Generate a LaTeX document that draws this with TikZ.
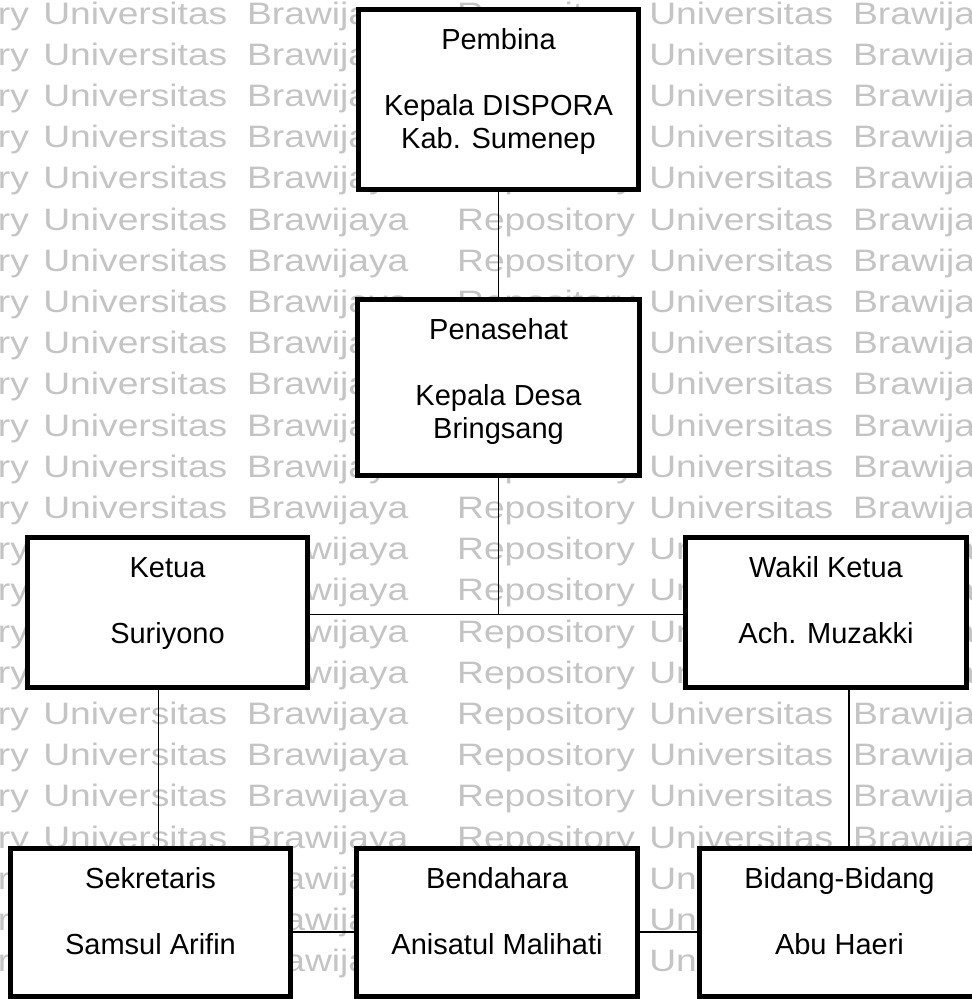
\documentclass[tikz,border=0pt]{standalone}
\usepackage{fontspec}
\setmainfont{Liberation Sans}
\usetikzlibrary{positioning,calc}
\definecolor{wmgray}{gray}{0.77}

\begin{document}
\begin{tikzpicture}[
    x=1pt,y=-1pt,
    box/.style={draw,fill=white,line width=5pt,outer sep=0pt,inner sep=0pt,
                minimum width=280pt},
    txt/.style={font=\fontsize{29}{33}\selectfont,align=center,inner sep=0pt,anchor=north},
    link/.style={line width=1.6pt},
    wm/.style={font=\fontsize{31}{37}\selectfont,text=wmgray,inner sep=0pt,anchor=base west},
]
\useasboundingbox (0,0) rectangle (972,999);

% ---- watermark rows behind the chart ----
\foreach \k in {0,...,23}{
  \foreach \s/\xx in {a/-149,b/457}{
    \node[wm] (wm-\k-\s) at (\xx,24+41.2*\k)
      {\scalebox{1.2}[1]{Repository\hspace{12pt}Universitas\hspace{16.5pt}Brawijaya}};
  }
}

% ---- boxes ----
\node[box,minimum height=180pt] (pembina) at (498.5,99.5) {};
\node[box,minimum width=282pt,minimum height=176pt] (penasehat) at (498.5,387.5) {};
\node[box,minimum height=150pt] (ketua) at (167.5,612.5) {};
\node[box,minimum width=281pt,minimum height=150pt] (wakil) at (826,612.5) {};
\node[box,minimum height=148pt] (sekretaris) at (150.5,922.5) {};
\node[box,minimum width=281pt,minimum height=148pt] (bendahara) at (497,922.5) {};
\node[box,minimum height=148pt] (bidang) at (839.5,922.5) {};

% ---- connecting lines ----
\draw[link] (pembina.south) -- (penasehat.north);
\draw[link] (penasehat.south) -- ([yshift=-2pt]penasehat.south |- ketua.east);
\draw[link] ([yshift=-2pt]ketua.east) -- ([yshift=-2pt]wakil.west);
\draw[link] ([xshift=-9pt]ketua.south) -- ([xshift=-9pt]ketua.south |- sekretaris.north);
\draw[link] ([xshift=22.7pt]wakil.south) -- ([xshift=22.7pt]wakil.south |- bidang.north);
\draw[link] ([yshift=-9.2pt]sekretaris.east) -- ([yshift=-9.2pt]bendahara.west);
\draw[link] ([yshift=-9.2pt]bendahara.east) -- ([yshift=-9.2pt]bidang.west);

% ---- box texts ----
\node[txt] (pembina-t) at ([yshift=-16.4pt]pembina.north)
     {\strut Pembina\\[33pt]Kepala DISPORA\\Kab. Sumenep};
\node[txt] (penasehat-t) at ([yshift=-16.4pt]penasehat.north)
     {\strut Penasehat\\[33pt]Kepala Desa\\Bringsang};
\node[txt] (ketua-t) at ([yshift=-16.4pt]ketua.north) {\strut Ketua\\[33pt]Suriyono};
\node[txt] (wakil-t) at ([yshift=-16.4pt]wakil.north) {\strut Wakil Ketua\\[33pt]Ach. Muzakki};
\node[txt] (sekretaris-t) at ([yshift=-16.4pt]sekretaris.north)
     {\strut Sekretaris\\[33pt]Samsul Arifin};
\node[txt] (bendahara-t) at ([yshift=-16.4pt]bendahara.north)
     {\strut Bendahara\\[33pt]Anisatul Malihati};
\node[txt] (bidang-t) at ([yshift=-16.4pt]bidang.north)
     {\strut Bidang-Bidang\\[33pt]Abu Haeri};

\end{tikzpicture}
\end{document}
